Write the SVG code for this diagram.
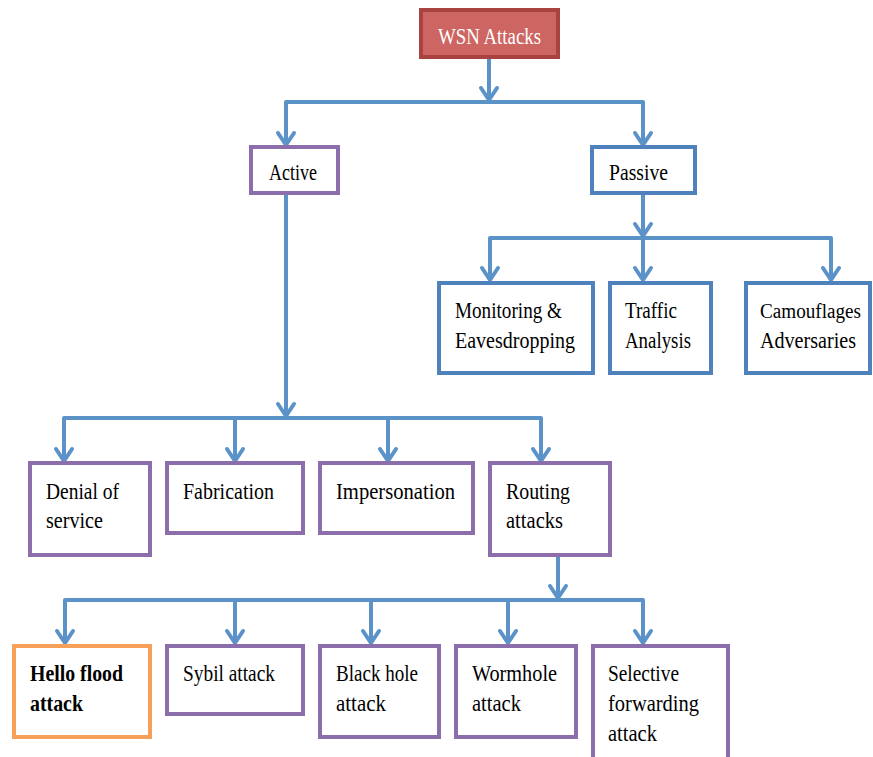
<svg xmlns="http://www.w3.org/2000/svg" width="873" height="757" viewBox="0 0 873 757">
<defs>
<marker id="arr" markerUnits="userSpaceOnUse" markerWidth="30" markerHeight="30" viewBox="-15 -15 30 30" refX="0" refY="0" orient="auto" overflow="visible">
<path d="M-12,-8 L0,0 L-12,8" fill="none" stroke="#5B93C9" stroke-width="4" stroke-linecap="round" stroke-linejoin="round"/>
</marker>
</defs>
<style>
.c{fill:none;stroke:#5B93C9;stroke-width:4;stroke-linejoin:round}
.a{marker-end:url(#arr)}
.bp{fill:#fff;stroke:#8B6EAB;stroke-width:4}
.bb{fill:#fff;stroke:#4F81BD;stroke-width:4}
.bo{fill:#fff;stroke:#F7A05A;stroke-width:4}
text{font-family:"Liberation Serif","Times New Roman",serif;font-size:22.5px;fill:#000}
.w{fill:#fff}
.b{font-weight:bold}
.s{font-size:20.5px}
</style>
<g id="connectors">
<path class="c a" d="M489,58 V100"/>
<path class="c a" d="M489,102 H286 V145"/>
<path class="c a" d="M489,102 H643 V145"/>
<path class="c a" d="M643,193 V236"/>
<path class="c a" d="M643,238 H490 V280"/>
<path class="c a" d="M643,238 V280"/>
<path class="c a" d="M643,238 H831 V280"/>
<path class="c a" d="M286,193 V416"/>
<path class="c a" d="M286,418 H64 V461"/>
<path class="c a" d="M286,418 H235 V461"/>
<path class="c a" d="M286,418 H388 V461"/>
<path class="c a" d="M286,418 H541 V461"/>
<path class="c a" d="M558,556 V598"/>
<path class="c a" d="M558,600 H65 V643"/>
<path class="c a" d="M558,600 H235 V643"/>
<path class="c a" d="M558,600 H371 V643"/>
<path class="c a" d="M558,600 H508 V643"/>
<path class="c a" d="M558,600 H643 V643"/>
</g>
<g id="wsn">
<rect x="421" y="10" width="137" height="47" fill="#CD6562" stroke="#A8433F" stroke-width="4"/>
<text class="w" x="438" y="44" textLength="103" lengthAdjust="spacingAndGlyphs">WSN Attacks</text>
</g>
<g id="active">
<rect class="bp" x="251" y="147" width="87" height="46"/>
<text x="269" y="180" textLength="48" lengthAdjust="spacingAndGlyphs">Active</text>
</g>
<g id="passive">
<rect class="bb" x="592" y="147" width="103" height="46"/>
<text x="609" y="180" textLength="59" lengthAdjust="spacingAndGlyphs">Passive</text>
</g>
<g id="monitoring">
<rect class="bb" x="439" y="283" width="154" height="90"/>
<text x="455" y="318" textLength="107" lengthAdjust="spacingAndGlyphs">Monitoring &amp;</text>
<text x="455" y="348" textLength="120" lengthAdjust="spacingAndGlyphs">Eavesdropping</text>
</g>
<g id="traffic">
<rect class="bb" x="610" y="283" width="101" height="90"/>
<text x="625" y="318" textLength="52" lengthAdjust="spacingAndGlyphs">Traffic</text>
<text x="625" y="348" textLength="66" lengthAdjust="spacingAndGlyphs">Analysis</text>
</g>
<g id="camouflages">
<rect class="bb" x="746" y="283" width="124" height="90"/>
<text class="s" x="760" y="318" textLength="101" lengthAdjust="spacingAndGlyphs">Camouflages</text>
<text x="760" y="348" textLength="96" lengthAdjust="spacingAndGlyphs">Adversaries</text>
</g>
<g id="denial">
<rect class="bp" x="30" y="463" width="120" height="92"/>
<text x="46" y="499" textLength="73" lengthAdjust="spacingAndGlyphs">Denial of</text>
<text x="46" y="528" textLength="57" lengthAdjust="spacingAndGlyphs">service</text>
</g>
<g id="fabrication">
<rect class="bp" x="167" y="463" width="136" height="70"/>
<text x="183" y="499" textLength="91" lengthAdjust="spacingAndGlyphs">Fabrication</text>
</g>
<g id="impersonation">
<rect class="bp" x="320" y="463" width="153" height="70"/>
<text x="336" y="499" textLength="119" lengthAdjust="spacingAndGlyphs">Impersonation</text>
</g>
<g id="routing">
<rect class="bp" x="490" y="463" width="120" height="92"/>
<text x="506" y="499" textLength="64" lengthAdjust="spacingAndGlyphs">Routing</text>
<text x="506" y="528" textLength="57" lengthAdjust="spacingAndGlyphs">attacks</text>
</g>
<g id="hello">
<rect class="bo" x="14" y="646" width="136" height="91"/>
<text class="b" x="30" y="681" textLength="93" lengthAdjust="spacingAndGlyphs">Hello flood</text>
<text class="b" x="30" y="711" textLength="53" lengthAdjust="spacingAndGlyphs">attack</text>
</g>
<g id="sybil">
<rect class="bp" x="167" y="646" width="136" height="68"/>
<text x="183" y="681" textLength="92" lengthAdjust="spacingAndGlyphs">Sybil attack</text>
</g>
<g id="blackhole">
<rect class="bp" x="320" y="646" width="119" height="91"/>
<text x="336" y="681" textLength="82" lengthAdjust="spacingAndGlyphs">Black hole</text>
<text x="336" y="711" textLength="50" lengthAdjust="spacingAndGlyphs">attack</text>
</g>
<g id="wormhole">
<rect class="bp" x="456" y="646" width="120" height="91"/>
<text x="472" y="681" textLength="85" lengthAdjust="spacingAndGlyphs">Wormhole</text>
<text x="472" y="711" textLength="49" lengthAdjust="spacingAndGlyphs">attack</text>
</g>
<g id="selective">
<rect class="bp" x="593" y="646" width="135" height="120"/>
<text x="608" y="681" textLength="71" lengthAdjust="spacingAndGlyphs">Selective</text>
<text x="608" y="711" textLength="91" lengthAdjust="spacingAndGlyphs">forwarding</text>
<text x="608" y="741" textLength="49" lengthAdjust="spacingAndGlyphs">attack</text>
</g>
</svg>
